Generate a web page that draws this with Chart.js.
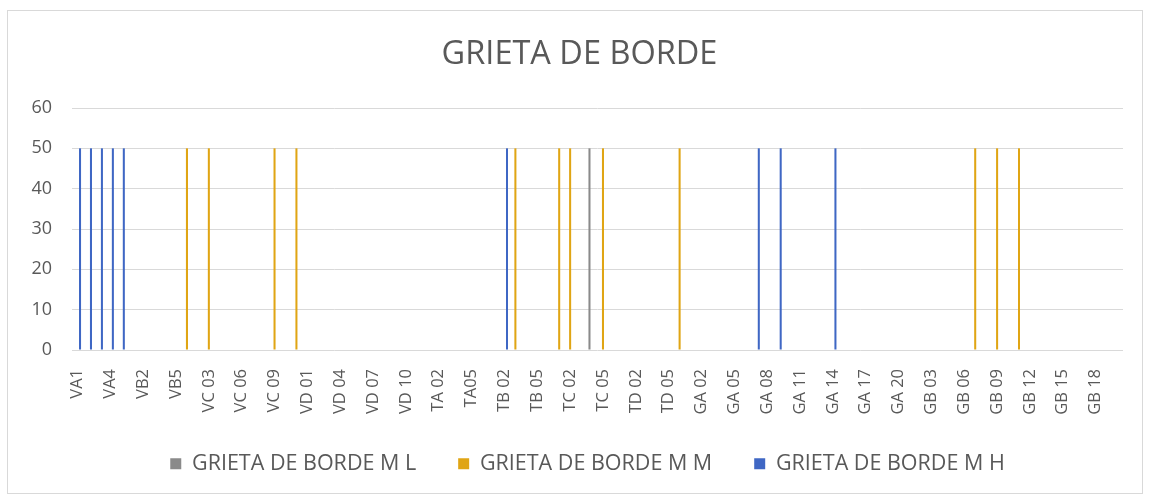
<!DOCTYPE html>
<html>
<head>
<meta charset="utf-8">
<script src="https://cdn.jsdelivr.net/npm/chart.js@4.4.1/dist/chart.umd.min.js"></script>
<style>
  html, body { margin: 0; padding: 0; background: #fff; }
  #wrap { position: relative; width: 1152px; height: 497px; }
  #frame { position: absolute; left: 7px; top: 10px; width: 1134px; height: 482px;
           border: 1px solid #d9d9d9; pointer-events: none; }
</style>
</head>
<body>
<div id="wrap">
  <canvas id="chart" width="1152" height="497"></canvas>
  <div id="frame"></div>
</div>
<script>
  // sections: VA, VB, VC, VD, TA, TB, TC, TD, GA, GB
  const categories = [
    "VA1", "VA2", "VA3", "VA4", "VA5",
    "VB1", "VB2", "VB3", "VB4", "VB5",
    "VC 01", "VC 02", "VC 03", "VC 04", "VC 05", "VC 06", "VC 07", "VC 08", "VC 09", "VC 10", "VC 11",
    "VD 01", "VD 02", "VD 03", "VD 04", "VD 05", "VD 06", "VD 07", "VD 08", "VD 09", "VD 10", "VD 11",
    "TA 01", "TA 02", "TA 03", "TA 04", "TA05", "TA 06",
    "TB 01", "TB 02", "TB 03", "TB 04", "TB 05", "TB 06",
    "TC 01", "TC 02", "TC 03", "TC 04", "TC 05", "TC 06",
    "TD 01", "TD 02", "TD 03", "TD 04", "TD 05", "TD 06",
    "GA 01", "GA 02", "GA 03", "GA 04", "GA 05", "GA 06", "GA 07", "GA 08", "GA 09", "GA 10",
    "GA 11", "GA 12", "GA 13", "GA 14", "GA 15", "GA 16", "GA 17", "GA 18", "GA 19", "GA 20",
    "GB 01", "GB 02", "GB 03", "GB 04", "GB 05", "GB 06", "GB 07", "GB 08", "GB 09", "GB 10",
    "GB 11", "GB 12", "GB 13", "GB 14", "GB 15", "GB 16", "GB 17", "GB 18", "GB 19", "GB 20"
  ];

  const n = null;
  // 12 values per row
  const grietaML = [
    n, n, n, n, n, n, n, n, n, n, n, n,
    n, n, n, n, n, n, n, n, n, n, n, n,
    n, n, n, n, n, n, n, n, n, n, n, n,
    n, n, n, n, n, n, n, n, n, n, n, 50,
    n, n, n, n, n, n, n, n, n, n, n, n,
    n, n, n, n, n, n, n, n, n, n, n, n,
    n, n, n, n, n, n, n, n, n, n, n, n,
    n, n, n, n, n, n, n, n, n, n, n, n
  ];
  const grietaMM = [
    n, n, n, n, n, n, n, n, n, n, 50, n,
    50, n, n, n, n, n, 50, n, 50, n, n, n,
    n, n, n, n, n, n, n, n, n, n, n, n,
    n, n, n, n, 50, n, n, n, 50, 50, n, n,
    50, n, n, n, n, n, n, 50, n, n, n, n,
    n, n, n, n, n, n, n, n, n, n, n, n,
    n, n, n, n, n, n, n, n, n, n, 50, n,
    50, n, 50, n, n, n, n, n, n, n, n, n
  ];
  const grietaMH = [
    50, 50, 50, 50, 50, n, n, n, n, n, n, n,
    n, n, n, n, n, n, n, n, n, n, n, n,
    n, n, n, n, n, n, n, n, n, n, n, n,
    n, n, n, 50, n, n, n, n, n, n, n, n,
    n, n, n, n, n, n, n, n, n, n, n, n,
    n, n, 50, n, 50, n, n, n, n, 50, n, n,
    n, n, n, n, n, n, n, n, n, n, n, n,
    n, n, n, n, n, n, n, n, n, n, n, n
  ];
  const yTicks = { min: 0, max: 60, step: 10 };

  const textColor = "#595959";
  const gridColor = "#d9d9d9";
  const fontFamily = "'Open Sans', sans-serif";

  // title and legend sit a bit right of the plot centre in the original;
  // legend row is also lifted (top only, the legend clips to its box)
  const boxNudge = {
    id: "boxNudge",
    afterLayout(chart) {
      const t = chart.titleBlock;
      if (t) { t.left += 18; t.right += 18; }
      const lg = chart.legend;
      if (lg) {
        lg.left += 26; lg.right += 26;
        lg.top -= 19;
      }
    }
  };

  new Chart(document.getElementById("chart").getContext("2d"), {
    type: "bar",
    data: {
      labels: categories,
      datasets: [
        { label: "GRIETA DE BORDE M L", data: grietaML, backgroundColor: "#8a8a8a" },
        { label: "GRIETA DE BORDE M M", data: grietaMM, backgroundColor: "#e0a514" },
        { label: "GRIETA DE BORDE M H", data: grietaMH, backgroundColor: "#3f67c4" },
      ],
    },
    options: {
      responsive: false,
      animation: false,
      categoryPercentage: 0.7,
      barPercentage: 0.8,
      layout: { padding: { left: 0, right: 29, top: 0, bottom: 17 } },
      scales: {
        x: {
          grid: { display: false },
          border: { display: false },
          ticks: {
            autoSkip: false,
            minRotation: 90,
            maxRotation: 90,
            padding: 11,
            color: textColor,
            font: { family: fontFamily, size: 16.5 },
            callback: function (value, index) {
              return index % 3 === 0 ? this.getLabelForValue(value) : "";
            },
          },
          afterFit(scale) { scale.height = 80; },
        },
        y: {
          min: yTicks.min,
          max: yTicks.max,
          grid: { color: gridColor, lineWidth: 1, drawTicks: false },
          border: { display: false },
          ticks: {
            stepSize: yTicks.step,
            padding: 20,
            color: textColor,
            font: { family: fontFamily, size: 18 },
          },
          afterFit(scale) { scale.width = 72; },
        },
      },
      plugins: {
        title: {
          display: true,
          text: "GRIETA DE BORDE",
          color: textColor,
          font: { family: fontFamily, size: 32.5, weight: "normal" },
          padding: { top: 35, bottom: 34 },
        },
        legend: {
          position: "bottom",
          maxHeight: 50,
          labels: {
            boxWidth: 11,
            boxHeight: 11,
            padding: 42,
            color: textColor,
            font: { family: fontFamily, size: 21.5 },
          },
        },
        tooltip: { enabled: false },
      },
    },
    plugins: [boxNudge],
  });
</script>
</body>
</html>
